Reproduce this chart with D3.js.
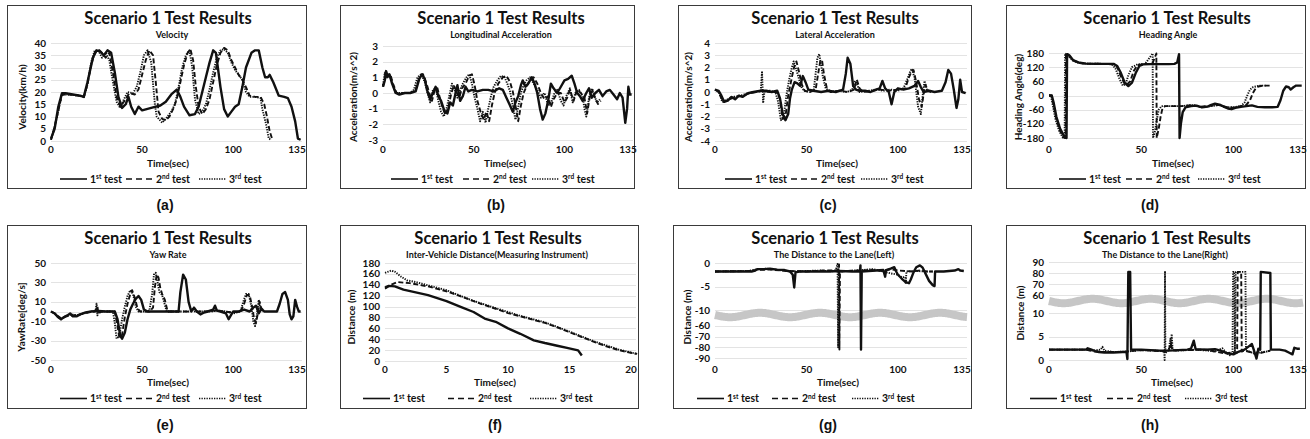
<!DOCTYPE html>
<html>
<head>
<meta charset="utf-8">
<script src="https://cdn.jsdelivr.net/npm/d3@7"></script>
<style>
  body { margin: 0; background: #fff; }
  text { font-family: Lato, "Open Sans", sans-serif; font-weight: bold; fill: #111; }
  .tag { font-family: "Liberation Sans", Arial, sans-serif; font-size: 14px; }
</style>
</head>
<body>
<svg id="fig" width="1310" height="439"></svg>
<script>
// ---- data: [time, value] ----
var vel1 = [[0,1],[1,3],[2,5],[4,14],[6,19.5],[8,19.5],[12,19],[16,18.5],[18,18],[20,24],[23,34],[25,37],[27,36.5],[29,35],[31,37],[33,36],[35,28],[37,18],[39,13.5],[41,15],[42.5,18],[44,14],[46,11],[48,14],[50,12.5],[55,13.5],[60,14.5],[63,16],[66,19],[69,21],[71,18],[73,14],[76,10.5],[79,11],[81,14],[83,20],[85,26],[87,32],[89,37],[90.5,36],[93,22],[95,13],[97,10],[99,12],[101,14],[103,15],[105,22],[107,30],[110,36],[112,37],[114,37],[116,30],[117.5,26],[119,26],[120,27],[122,24],[125,18.5],[128,18],[130,17.5],[132,14],[134,8],[135.5,1],[137,0.5]];
var vel2 = [[0,0.5],[1,3],[3,9],[6,19],[10,19],[15,18.5],[18,18],[20,23],[22,31],[24,36],[26,37.5],[28,36],[30,34],[32,36],[34,28],[36,18],[38,14],[40,16],[43,19.5],[46,19],[48,21],[50,27],[52,33],[54,37],[56,35],[57.5,24],[59,12],[61,9],[63,8.5],[65,10],[67,13],[69,17],[71,24],[73,31],[75,36],[76.5,37.5],[78,33],[79.5,22],[81,14],[83,11],[85,13],[87,17],[89,24],[91,31],[93,36],[95,38],[97,37],[99,33],[101,30],[103,27],[105,25],[107,22],[109,18.5],[112,18],[115,18],[117,15],[118.5,10],[120,4],[121.5,0.5]];
var vel3 = [[0,0.5],[1,3],[3,9],[6,19],[10,19],[15,18.5],[18,18],[20,23],[22,32],[24,37],[26,37],[28,34],[30,36],[32,33],[34,24],[36,16],[38,13.5],[40,17],[42,20],[45,19.5],[47,22],[49,28],[51,35],[53,37],[55,32],[57,15],[58,10],[61,7.5],[63,9],[66,12],[68,15],[70,22],[72,30],[74,35],[76,37],[77.5,30],[79,17],[81,11],[83,12],[85,15],[87,21],[89,28],[91,34],[93,37],[95,37.5],[97,36],[99,32],[101,29],[103,27],[105,25],[107,20],[109,18],[112,18],[115,17.5],[116,13],[118,7],[119.5,1],[121,0.5]];

var lon1 = [[0,0.4],[1,0.8],[1.7,1.4],[2.5,1.1],[3.5,1.2],[5,0.6],[7,0],[9,-0.1],[12,0],[15,0],[18,0.1],[20,0.9],[21.5,1.2],[23,0.9],[24.5,0.1],[26,-0.4],[27.5,0],[29,0.4],[30.5,-0.2],[32,-0.5],[34,-1.2],[35.5,-1.3],[37,-0.6],[38.5,-0.8],[40,0],[41,0.5],[42.5,-0.5],[44,-0.2],[45.5,0.4],[47,0.1],[49,0.2],[52,0.1],[55,0.2],[58,0.2],[61,0.1],[64,0.3],[66,0.2],[68,-0.3],[70,-0.8],[71.5,-1.2],[73,-0.6],[74.5,-0.2],[76,0.5],[77,0.8],[78.5,0.4],[80,0.6],[82,1.0],[83.5,0.6],[85,0],[86.5,-1.0],[88,-1.7],[89.5,-1.3],[91,-0.5],[92.5,0.6],[94,0.3],[96,0],[98,0.4],[100,0.8],[102,0.9],[104,1.1],[105.5,0.6],[107,0],[108.5,-0.2],[110,-0.5],[112,0],[113.5,0.3],[115,-0.3],[117,0],[119,0.2],[121,-0.2],[123,0.1],[125,0.2],[127,-0.1],[129,-0.4],[130.5,0],[132,-0.3],[133.5,-1.9],[134.5,-1.0],[135.2,0.4],[136,-0.1],[137,-0.1]];
var lon2 = [[0,0.4],[1.5,1.2],[2.5,1.0],[4,1.2],[5.5,0.6],[7.5,0],[10,0],[15,0],[18,0.2],[20,1.0],[22,1.2],[24,0.6],[25.5,0],[27,-0.5],[28.5,0.2],[30,0.3],[31.5,-0.4],[33,-1.0],[34.5,-1.4],[36,-0.9],[37.5,-0.1],[39,0.5],[40.5,0.1],[42,-0.3],[43.5,0.3],[45.5,0.6],[47.5,1.1],[49,1.2],[50.5,0.5],[52,-0.5],[54,-1.3],[55.5,-1.7],[57,-1.2],[58.5,-1.8],[60,-0.8],[61.5,0],[63.5,0.6],[66,1.0],[68,1.1],[70,0.7],[71.5,0.1],[73,-0.8],[74.5,-1.8],[76,-0.8],[77.5,0],[79,0.4],[81,0.8],[83,1.0],[85,0.6],[87,0],[89,-0.4],[91,-0.2],[92.5,-0.9],[94,-0.4],[96,0],[98,0],[100,-0.6],[101.5,-0.3],[103,0.2],[105,-0.5],[107,0.2],[109,0],[111,-0.3],[112.5,-1.3],[114,-0.2],[115.5,0.2],[117,-0.4],[118.5,-0.7],[120,-0.5]];
var lon3 = [[0,0.5],[1,1.3],[2,1.0],[3.5,1.2],[5,0.7],[7,0],[10,0],[15,0],[17,0.2],[19,1.0],[21,1.2],[23,0.7],[24.5,0],[26,-0.6],[27.5,0.2],[29,0.3],[30.5,-0.5],[32,-1.2],[33.5,-1.5],[35,-1.0],[36.5,-0.2],[38,0.6],[39.5,0.2],[41,-0.3],[42.5,0.2],[44,0.6],[46,1.0],[47.5,1.2],[49,0.6],[50.5,-0.3],[52,-1.0],[53.5,-1.8],[55,-1.2],[56.5,-1.9],[58,-1.0],[59.5,-0.2],[61,0.4],[63,0.8],[65,1.1],[67,1.0],[68.5,0.6],[70,0.1],[71.5,-0.8],[73,-1.7],[74.5,-0.9],[76,0],[77.5,0.5],[79,0.8],[81,1.0],[83,0.6],[85,0.2],[87,-0.3],[89,0],[91,-0.8],[93,-0.5],[94.5,0],[96,0.2],[98,-0.5],[99.5,-0.8],[101,-0.2],[103,0.3],[104.5,-0.6],[106,0],[108,0.2],[110,-0.2],[111,-1.0],[112,-1.5],[113.5,-0.3],[115,0.3],[116.5,-0.2],[118,-0.6],[119.5,-0.4]];

var lat1 = [[0,0.2],[2,0.1],[3.5,-0.3],[5,-0.8],[7,-0.7],[9,-0.4],[11,-0.6],[13,-0.3],[15,-0.4],[18,-0.1],[21,0],[25,0.1],[28,0.1],[31,0],[34,0.1],[35.5,-0.5],[37,-1.8],[38.5,-2.3],[40,-1.8],[41,-0.5],[42,0.2],[43.5,0.8],[45,0.7],[46.5,0.5],[48,1.3],[49.5,0.8],[51,0.2],[54,0.1],[58,0],[62,0.1],[66,0],[70,0.2],[71.5,1.5],[72.5,2.8],[74,2.3],[75.5,0.5],[77,0.2],[79,0.1],[82,0.1],[85,0],[88,0.2],[90,0.3],[91.5,0.9],[93,0.3],[95,0],[96.5,-1.0],[98,0],[100,0.3],[103,0.2],[106,0.3],[109,0.5],[111,0.9],[112.5,0.4],[114,0],[117,0.1],[120,0],[124,0.1],[126,0.8],[127.5,1.8],[129,1.5],[130.5,0.2],[132,-1.3],[133,-0.6],[134,1.0],[135,0],[137,-0.1]];
var lat2 = [[0,0.2],[2,0],[4.5,-0.8],[8,-0.6],[11,-0.4],[15,-0.3],[19,-0.1],[23,0],[26,0.1],[30,0],[34,0],[35.5,-0.6],[37,-2.2],[38.5,-2.0],[40,-0.3],[42,1.2],[43.5,2.2],[44.5,2.5],[46,1.6],[47.5,0.6],[49,0.1],[52,0],[55,0.2],[56.5,1.6],[57.5,2.5],[58.5,2.6],[59.5,1.5],[61,0.4],[63,0],[68,0.1],[73,0],[76,0.2],[77.5,1.0],[79,0.3],[81,0],[86,0.1],[90,0.2],[95,0.1],[100,0.2],[104,0.3],[106,1.2],[107.5,1.7],[108.5,1.8],[110,0.8],[111.5,-0.6],[113,-1.2],[114,-0.2],[115,0.6],[116.5,0.1],[118,0]];
var lat3 = [[0,0.2],[2,0],[4,-0.8],[7,-0.6],[10,-0.4],[14,-0.3],[18,-0.1],[22,0],[25,0.1],[25.7,1.7],[26.3,-0.9],[27,0],[30,0.1],[33,0],[34.5,-0.8],[36,-2.3],[37.5,-2.0],[39,-0.3],[40.5,1.0],[42,2.0],[43,2.5],[44.5,1.8],[46,1.0],[47.5,0.3],[49,0.1],[52,0],[54,0.2],[55,1.5],[56,2.8],[57,3.1],[58,2.2],[59,1.2],[60.5,0.3],[63,0],[67,0.1],[72,0],[75,0.2],[76.5,0.9],[78,0.5],[79,0],[84,0.1],[88,0.2],[92,0.1],[96,0.2],[100,0.1],[103,0.3],[105,1.0],[106.5,1.6],[107.5,1.9],[109,1.2],[110,0],[111,-1.2],[112.5,-1.8],[113.5,-0.3],[114.5,0.9],[116,0.1],[118,0]];

var hd1 = [[0,0],[1.5,0],[2.5,-30],[4,-90],[6,-140],[8,-170],[9.5,-180],[9.8,175],[11,170],[13,150],[16,140],[20,135],[25,134],[30,134],[35,134],[37,125],[39,95],[41,55],[43,40],[45,55],[47,95],[49,125],[51,132],[55,133],[60,133],[65,133],[68,134],[69.5,140],[70.5,175],[70.8,-180],[71.5,-120],[72.5,-70],[74,-50],[77,-45],[80,-43],[83,-50],[86,-47],[88,-40],[90,-35],[93,-40],[95,-48],[97,-55],[99,-58],[101,-52],[104,-48],[107,-45],[110,-42],[113,-48],[117,-50],[121,-50],[124,-48],[125.5,-20],[127,20],[128.5,38],[130,35],[131,25],[132.5,35],[134,42],[137,42]];
var hd2 = [[0,0],[1.5,0],[2.5,-40],[4,-100],[6,-150],[8,-178],[9,-180],[9.2,178],[10.5,172],[13,150],[16,138],[20,135],[30,134],[35,133],[37,120],[39,80],[41,50],[42,45],[44,60],[46,105],[48,128],[51,133],[56,134],[58.2,178],[58.4,-180],[59.5,-140],[60.5,-90],[61.5,-55],[63,-45],[67,-45],[72,-45],[78,-40],[82,-48],[88,-43],[92,-40],[96,-48],[100,-52],[104,-45],[107,-40],[109,-20],[110.5,10],[112,30],[113.5,38],[116,42],[120,42]];
var hd3 = [[0,0],[1,0],[2,-40],[3.5,-100],[5.5,-150],[7.5,-178],[8.5,-180],[8.7,178],[10,170],[13,148],[16,138],[20,135],[30,134],[34,132],[36,115],[38,75],[40,42],[41.5,48],[43,85],[45,120],[48,132],[52,133],[56.2,178],[56.4,-180],[57.5,-150],[58.5,-100],[59.5,-60],[61,-45],[66,-45],[72,-45],[78,-40],[82,-50],[88,-45],[92,-40],[96,-50],[100,-50],[104,-45],[106,-30],[107.5,0],[109,25],[110.5,35],[112,38],[114,42],[118,42]];

var yaw1 = [[0,0],[2,-2],[4,-6],[5.5,-8],[7,-6],[9,-4],[10.5,-2],[12,-5],[14,-5],[16,-3],[19,-1],[22,0],[26,0.5],[30,0],[35,0],[36.5,-8],[38,-25],[39,-28],[40.5,-22],[42,-8],[43.5,2],[45,8],[46.5,13],[48,16],[49.5,12],[51,2],[53,0],[60,0],[66,0],[70,0],[71,20],[72.5,38],[74,33],[75.5,10],[77,0],[78.5,4],[80,0],[82,-3],[84,-1],[86,0],[89,2],[90,6],[91,1],[93,0],[96,-2],[97.5,-8],[99,-3],[100,0],[103,0],[106,2],[109,0],[111,4],[112.5,6],[114,-2],[115.5,3],[117,0],[120,0],[124,0],[125.5,8],[127,18],[128.5,20],[130,12],[131,-3],[132,-8],[133,-5],[134,12],[135,5],[136,0],[137,0]];
var yaw2 = [[0,0],[2,-2],[4,-5],[5.5,-7],[8,-5],[12,-4],[16,-3],[20,-1],[24,0],[25.5,5],[26,-2],[28,0],[35,0],[36.5,-15],[37.5,-27],[39,-24],[40.5,-6],[42,8],[43.5,18],[44.5,22],[46,14],[47.5,3],[49,0],[54,0],[56,4],[57,25],[58,38],[59,35],[60,24],[61,18],[62.5,12],[64,0],[70,0],[75,0],[78.5,3],[80,0],[85,0],[90,1],[95,0],[100,-1],[104,0],[106,8],[107.5,17],[109,17],[110.5,4],[111.5,-8],[112.5,-12],[113.5,-2],[114.5,10],[115.5,2],[117,0]];
var yaw3 = [[0,0],[2,-2],[4,-6],[5.5,-8],[8,-5],[11,-3],[14,-4],[18,-2],[22,0],[24.5,1],[25,8],[25.5,-4],[26,0],[30,0],[34,0],[35,-12],[36,-28],[37.5,-25],[39,-8],[40.5,5],[42,16],[43.5,22],[45,18],[46.5,5],[48,0],[52,0],[54,1],[55.5,18],[56.5,38],[57.5,40],[58.5,30],[59.5,20],[61,17],[62,10],[63.5,0],[68,0],[72,0],[76,0],[78,2],[79,0],[84,0],[88,0],[92,1],[96,0],[100,-2],[104,0],[105.5,10],[107,18],[108.5,18],[110,5],[111,-10],[112,-15],[113,-3],[114,12],[115,2],[116.5,0]];

var dist1 = [[0,135],[0.3,138],[0.8,137],[1.5,131],[3.5,121],[5,110],[6.2,99],[7.2,90],[8.1,78],[9,72],[10,60],[11,50],[12.1,38],[13,33],[14,28],[14.8,24],[15.7,19.5],[16,10]];
var dist2 = [[0,133],[0.5,140],[1,145],[2,143],[3.5,137],[5,128],[6.5,116],[7.8,105],[9,96],[10,88],[11,82],[12,76],[13,70],[14,62],[15,53],[16,44],[17,35],[18,27],[19,20],[20,15],[20.5,13]];
var dist3 = [[0,162],[0.5,166],[0.8,164],[1.3,155],[1.8,148],[2.5,145],[3.5,139],[5,130],[7,112],[9,97],[11,83],[13,71],[15,54],[17,36],[19,21],[20.5,13]];

var laneL1 = [[0,-1.8],[10,-1.8],[20,-1.8],[22,-1.6],[23,-1.3],[27,-1.3],[30,-1.2],[34,-1.4],[38,-1.5],[41,-1.8],[42.5,-2.5],[43.3,-5.2],[44,-2.0],[46,-1.8],[55,-1.8],[62,-1.8],[68,-1.7],[75,-1.8],[79.2,-1.8],[79.5,-0.5],[79.8,-82],[80.2,-1.8],[84,-1.7],[88,-1.6],[92,-1.5],[93,-2.9],[93.5,-1.5],[96,-1.2],[98,-0.9],[99,-1.8],[100,-2.5],[102,-3.3],[104,-4.0],[106,-4.3],[107,-3.5],[108.5,-2.0],[110,-0.9],[112,-0.5],[113.5,-1.0],[115,-2.2],[117,-3.8],[119,-4.7],[120,-4.9],[120.3,-1.8],[125,-1.8],[128,-1.7],[131,-1.6],[133,-1.3],[134,-1.6],[136,-1.7]];
var laneL2 = [[0,-1.8],[20,-1.7],[22,-1.5],[30,-1.4],[40,-1.7],[50,-1.8],[60,-1.6],[66,-1.6],[67.5,-1.4],[67.8,-0.3],[68,-82],[68.3,-1.8],[72,-1.7],[78,-1.6],[85,-1.5],[92,-1.7],[96,-1.3],[100,-1.6],[104,-1.7],[108,-1.8],[112,-1.6],[116,-1.8],[119,-1.8]];
var laneL3 = [[0,-1.8],[18,-1.7],[22,-1.4],[28,-1.2],[35,-1.5],[42,-1.8],[50,-1.7],[58,-1.6],[64,-1.8],[66,-1.5],[67,-0.2],[67.3,-80],[67.6,-1.8],[72,-1.7],[80,-1.5],[86,-1.3],[92,-1.8],[96,-2.2],[100,-2.5],[102,-3.0],[104,-3.0],[104.3,-4.5],[104.6,-1.8],[110,-1.7],[116,-1.8],[119,-1.8]];

var laneR1 = [[0,2.2],[10,2.2],[20,2.2],[21,2.5],[23,2.2],[25,1.9],[27,1.7],[30,1.6],[35,1.6],[40,1.7],[42,1.7],[42.5,0.2],[43,81],[44,81],[44.5,2.2],[50,2.2],[55,2.1],[60,2.0],[65,2.0],[70,2.1],[75,2.2],[77,2.4],[78.5,4.1],[79.5,2.3],[85,2.2],[90,2.3],[93,2.0],[96,1.5],[100,1.2],[103,1.8],[106,2.2],[108,2.8],[110,3.4],[111,2.2],[112.5,0.3],[113.5,2.4],[114.5,2.2],[114.8,81],[120,80],[120.3,2.2],[125,2.2],[128,2.0],[130,1.6],[132,1.2],[133,2.6],[134.5,2.4],[136,2.4]];
var laneR2 = [[0,2.2],[20,2.2],[25,1.8],[30,1.7],[40,1.7],[50,2.1],[60,1.9],[63,1.9],[65,2.2],[66,3.5],[67,2.0],[75,2.1],[85,2.2],[90,1.8],[95,1.4],[99,1.6],[102,1.6],[102.3,81],[104.2,81],[104.5,1.8],[106,2.0],[110,1.6],[112,1.2],[115,1.5],[118,1.8],[120,2.0]];
var laneR3 = [[0,2.2],[20,2.2],[24,2.0],[28,2.2],[29,2.8],[30,2.0],[35,1.7],[42,1.8],[50,2.1],[58,2.0],[62.5,1.8],[62.7,0],[62.9,81],[63.1,1.5],[64,1.8],[65,2.2],[65.8,4.5],[66.2,3.0],[66.5,5.5],[67,2.3],[68,2.0],[75,2.1],[80,2.2],[86,2.0],[90,1.8],[94,2.5],[96,1.6],[98,1.0],[99.5,1.5],[99.8,81],[100.5,81],[100.8,1.5],[101.2,81],[106.5,81],[106.8,2.0],[110,1.6],[114,1.6],[118,1.8],[120,2.0]];

// ---- tick labels ----
var timeTicks = [0, 50, 100, 135];
var distTimeTicks = [0, 5, 10, 15, 20];
var velTicks = [0, 5, 10, 15, 20, 25, 30, 35, 40];
var lonTicks = [-3, -2, -1, 0, 1, 2, 3];
var latTicks = [-4, -3, -2, -1, 0, 1, 2, 3, 4];
var headTicks = [-180, -120, -60, 0, 60, 120, 180];
var yawTicks = [-50, -30, -10, 0, 10, 30, 50];
var distTicks = [0, 20, 40, 60, 80, 100, 120, 140, 160, 180];
var laneLTicks = [0, -5, -10, -60, -70, -80, -90];
var laneRTicks = [0, 5, 10, 60, 70, 80, 90];
var legendNames = [["1", "st"], ["2", "nd"], ["3", "rd"]];

var svg = d3.select("#fig");

var topRow = { title: 24, sub: 38, xlab: 153, time: 166.5, legend: 182.5, tag: 210, ytitle: 97 };
var botRow = { title: 244, sub: 257.5, xlab: 373, time: 386, legend: 402, tag: 430, ytitle: 317 };

var panels = [
  { tag: "(a)", box: [7, 5, 299, 183], row: topRow, xd: [0, 135], xr: [51, 297], yd: [0, 40], yr: [141, 43],
    xt: timeTicks, yt: velTicks, sub: "Velocity", ytitle: "Velocity(km/h)", ytx: 22, cx: 168, subx: 172, timex: 168, tagx: 165,
    series: [vel1, vel2, vel3], leg: [60, 126, 199] },
  { tag: "(b)", box: [340, 5, 294, 183], row: topRow, xd: [0, 135], xr: [383, 628], yd: [-3, 3], yr: [140, 46],
    xt: timeTicks, yt: lonTicks, sub: "Longitudinal Acceleration", ytitle: "Acceleration(m/s^2)", ytx: 353, cx: 501, subx: 501, timex: 505, tagx: 496,
    series: [lon1, lon2, lon3], leg: [391, 463, 532] },
  { tag: "(c)", box: [678, 5, 293, 183], row: topRow, xd: [0, 135], xr: [715, 962], yd: [-4, 4], yr: [141, 43],
    xt: timeTicks, yt: latTicks, sub: "Lateral Acceleration", ytitle: "Acceleration(m/s^2)", ytx: 688, cx: 835, subx: 835, timex: 837, tagx: 828,
    series: [lat1, lat2, lat3], leg: [725, 791, 861] },
  { tag: "(d)", box: [1006, 5, 299, 183], row: topRow, xd: [0, 135], xr: [1049, 1298], yd: [-180, 180], yr: [138, 53],
    xt: timeTicks, yt: headTicks, sub: "Heading Angle", ytitle: "Heading Angle(deg)", ytx: 1018, cx: 1167, subx: 1168, timex: 1173, tagx: 1150,
    series: [hd1, hd2, hd3], leg: [1059, 1126, 1198] },
  { tag: "(e)", box: [7, 225, 299, 183], row: botRow, xd: [0, 135], xr: [51, 297], yd: [-50, 50], yr: [360, 263],
    xt: timeTicks, yt: yawTicks, sub: "Yaw Rate", ytitle: "YawRate[deg/s]", ytx: 21, cx: 168, subx: 168, timex: 168, tagx: 165,
    series: [yaw1, yaw2, yaw3], leg: [60, 126, 199] },
  { tag: "(f)", box: [340, 225, 298, 183], row: botRow, xd: [0, 20], xr: [385, 631], yd: [0, 180], yr: [361, 263],
    xt: distTimeTicks, yt: distTicks, sub: "Inter-Vehicle Distance(Measuring Instrument)", ytitle: "Distance (m)", ytx: 351, cx: 498, subx: 497, timex: 495, tagx: 495,
    series: [dist1, dist2, dist3], leg: [363, 448, 530] },
  { tag: "(g)", box: [673, 225, 298, 183], row: botRow, xd: [0, 135], xr: [715, 962], yd: [0, -12, -55, -90], yr: [263, 319.5, 320.5, 358],
    xt: timeTicks, yt: laneLTicks, sub: "The Distance to the Lane(Left)", ytitle: "Distance (m)", ytx: 687, cx: 835, subx: 834, timex: 838, tagx: 828,
    series: [laneL1, laneL2, laneL3], leg: [697, 772, 852], brk: { y: 315, period: 60 } },
  { tag: "(h)", box: [1006, 225, 299, 183], row: botRow, xd: [0, 135], xr: [1049, 1298], yd: [0, 12, 55, 90], yr: [360, 303.6, 300.5, 262],
    xt: timeTicks, yt: laneRTicks, sub: "The Distance to the Lane(Right)", ytitle: "Distance (m)", ytx: 1020, cx: 1167, subx: 1165, timex: 1172, tagx: 1150, ytitleY: 313,
    series: [laneR1, laneR2, laneR3], leg: [1030, 1107, 1185], brk: { y: 301, period: 58 } }
];

var styles = [
  { w: 2.4, dash: null },
  { w: 1.9, dash: "5,2.5" },
  { w: 1.9, dash: "1.3,1.2" }
];

panels.forEach(function (p) {
  var g = svg.append("g");
  var row = p.row;
  var x = d3.scaleLinear().domain(p.xd).range(p.xr);
  var y = d3.scaleLinear().domain(p.yd).range(p.yr);

  g.append("rect")
    .attr("x", p.box[0] + 0.5).attr("y", p.box[1] + 0.5)
    .attr("width", p.box[2]).attr("height", p.box[3])
    .attr("fill", "#fff").attr("stroke", "#3a3a3a").attr("stroke-width", 1);

  // gridlines
  g.selectAll(".grid").data(p.yt).enter().append("line")
    .attr("x1", p.xr[0]).attr("x2", p.xr[1] + 5)
    .attr("y1", function (d) { return Math.round(y(d)) + 0.5; })
    .attr("y2", function (d) { return Math.round(y(d)) + 0.5; })
    .attr("stroke", "#dcdcdc").attr("stroke-width", 0.8);

  // y tick labels
  g.selectAll(".ytl").data(p.yt).enter().append("text")
    .attr("x", p.xr[0] - 5).attr("y", function (d) { return y(d); })
    .attr("dy", "0.35em").attr("text-anchor", "end")
    .style("font-size", "10px")
    .text(function (d) { return d; });

  // x tick labels
  g.selectAll(".xtl").data(p.xt).enter().append("text")
    .attr("x", function (d) { return x(d); }).attr("y", row.xlab)
    .attr("text-anchor", "middle").style("font-size", "10px")
    .text(function (d) { return d; });

  // axis break band
  if (p.brk) {
    var pts = d3.range(p.xr[0], p.xr[1] + 6, 1);
    var wave = d3.line()
      .x(function (d) { return d; })
      .y(function (d) { return p.brk.y + 2.2 * Math.sin((d - p.xr[0]) / p.brk.period * 2 * Math.PI); });
    g.append("path").attr("d", wave(pts))
      .attr("fill", "none").attr("stroke", "#c6c6c6").attr("stroke-width", 8);
  }

  // series
  var line = d3.line()
    .x(function (d) { return x(d[0]); })
    .y(function (d) { return y(d[1]); });
  p.series.forEach(function (s, i) {
    g.append("path").datum(s).attr("d", line)
      .attr("fill", "none").attr("stroke", "#111")
      .attr("stroke-width", styles[i].w)
      .attr("stroke-dasharray", styles[i].dash)
      .attr("stroke-linejoin", "round");
  });

  // titles
  g.append("text").attr("x", p.cx).attr("y", row.title).attr("text-anchor", "middle")
    .style("font-size", "16.5px").text("Scenario 1 Test Results");
  g.append("text").attr("x", p.subx).attr("y", row.sub).attr("text-anchor", "middle")
    .style("font-size", "9px").text(p.sub);
  g.append("text").attr("x", p.timex).attr("y", row.time).attr("text-anchor", "middle")
    .style("font-size", "10px").text("Time(sec)");
  var ty = p.ytitleY || row.ytitle;
  g.append("text").attr("transform", "translate(" + p.ytx + "," + ty + ")rotate(-90)")
    .attr("dy", "0.35em").attr("text-anchor", "middle")
    .style("font-size", "10px").text(p.ytitle);

  // legend
  legendNames.forEach(function (n, i) {
    var lx = p.leg[i];
    g.append("line").attr("x1", lx).attr("x2", lx + 27)
      .attr("y1", row.legend - 3.5).attr("y2", row.legend - 3.5)
      .attr("stroke", "#111").attr("stroke-width", i === 0 ? 1.6 : 1.3)
      .attr("stroke-dasharray", i === 1 ? "6,4" : styles[i].dash);
    var t = g.append("text").attr("x", lx + 30).attr("y", row.legend).style("font-size", "10.5px");
    t.append("tspan").text(n[0]);
    t.append("tspan").attr("dy", -3.5).style("font-size", "6.5px").text(n[1]);
    t.append("tspan").attr("dy", 3.5).text(" test");
  });

  // panel tag
  svg.append("text").attr("class", "tag").attr("x", p.tagx).attr("y", row.tag)
    .attr("text-anchor", "middle").text(p.tag);
});
</script>
</body>
</html>
